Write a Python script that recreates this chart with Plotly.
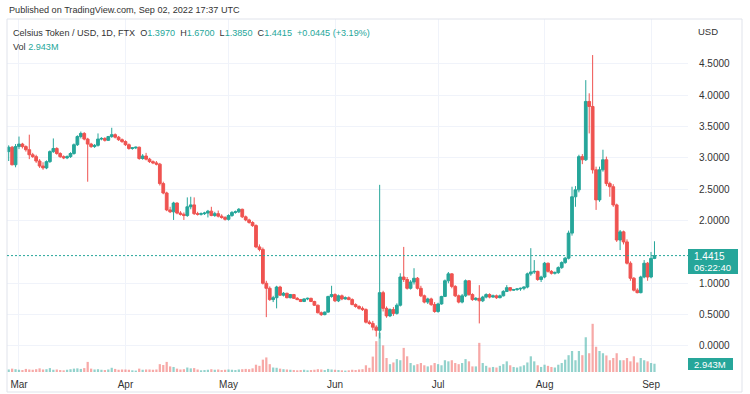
import plotly.graph_objects as go
import pandas as pd

# ---------------- data (daily candles, Feb 26 - Sep 2, 2022) ----------------
dates = pd.date_range("2022-02-26", "2022-09-02", freq="D")

opens = [
    3.10, 3.17, 2.89,  # Feb
    3.18, 3.22, 3.18, 3.13, 3.05, 3.02, 2.95, 2.87, 2.84, 2.94, 3.10, 3.15, 3.07, 3.02, 3.00, 3.02,
    3.07, 3.21, 3.34, 3.39, 3.30, 3.22, 3.18, 3.20, 3.30, 3.31, 3.28, 3.34, 3.37, 3.33, 3.29,  # Mar
    3.26, 3.21, 3.15, 3.16, 3.17, 2.99, 3.03, 2.98, 2.94, 2.92, 2.90, 2.59, 2.44, 2.17, 2.14, 2.28,
    2.12, 2.10, 2.08, 2.22, 2.25, 2.11, 2.10, 2.11, 2.12, 2.15, 2.08, 2.11, 2.07, 2.05,  # Apr
    2.02, 2.08, 2.13, 2.14, 2.18, 2.06, 2.01, 1.97, 1.92, 1.58, 1.54, 1.00, 0.92, 0.74, 0.77, 0.94,
    0.81, 0.84, 0.77, 0.82, 0.76, 0.74, 0.71, 0.75, 0.76, 0.71, 0.65, 0.53, 0.50, 0.54, 0.79,  # May
    0.82, 0.72, 0.80, 0.75, 0.77, 0.74, 0.66, 0.63, 0.60, 0.58, 0.38, 0.36, 0.30, 0.25, 0.85, 0.60,
    0.48, 0.58, 0.52, 0.65, 1.10, 1.06, 0.92, 1.02, 1.08, 0.92, 0.80, 0.70, 0.75, 0.66,  # Jun
    0.55, 0.67, 0.79, 1.04, 1.15, 0.95, 0.80, 0.70, 0.80, 1.04, 0.82, 0.74, 0.76, 0.72, 0.78, 0.82,
    0.78, 0.80, 0.77, 0.80, 0.87, 0.93, 0.89, 0.90, 0.91, 0.92, 0.94, 1.15, 1.18, 1.19, 1.06,  # Jul
    1.10, 1.32, 1.19, 1.16, 1.17, 1.25, 1.33, 1.40, 1.80, 2.38, 2.49, 3.02, 2.97, 3.90, 3.82, 2.81,
    2.33, 2.81, 2.97, 2.59, 2.54, 2.25, 1.69, 1.82, 1.66, 1.32, 1.08, 0.89, 0.85, 1.10, 1.32,  # Aug
    1.10, 1.397,  # Sep
]
highs = [
    3.20, 3.19, 3.22,
    3.34, 3.24, 3.20, 3.37, 3.08, 3.05, 2.98, 2.93, 2.96, 3.12, 3.31, 3.17, 3.09, 3.04, 3.04, 3.09,
    3.23, 3.36, 3.42, 3.41, 3.32, 3.24, 3.22, 3.39, 3.33, 3.33, 3.35, 3.48, 3.39, 3.35, 3.31,
    3.28, 3.23, 3.17, 3.18, 3.18, 3.06, 3.08, 3.00, 2.96, 2.95, 2.92, 2.62, 2.46, 2.22, 2.30, 2.29,
    2.15, 2.13, 2.37, 2.38, 2.37, 2.14, 2.13, 2.14, 2.17, 2.22, 2.14, 2.16, 2.10, 2.07,
    2.10, 2.15, 2.16, 2.20, 2.19, 2.08, 2.03, 1.99, 1.94, 1.62, 1.57, 1.04, 0.95, 0.80, 0.96, 0.96,
    0.86, 0.85, 0.83, 0.83, 0.78, 0.75, 0.76, 0.77, 0.77, 0.72, 0.66, 0.55, 0.55, 0.80, 0.96,
    0.84, 0.82, 0.82, 0.79, 0.79, 0.76, 0.68, 0.65, 0.63, 0.60, 0.41, 0.40, 0.33, 2.57, 0.88, 0.63,
    0.60, 0.62, 0.68, 1.16, 1.58, 1.10, 1.05, 1.24, 1.10, 0.96, 0.82, 0.77, 0.77, 0.70,
    0.69, 0.80, 1.06, 1.18, 1.16, 0.97, 0.82, 0.83, 1.06, 1.05, 0.84, 0.78, 0.97, 0.80, 0.84, 0.84,
    0.82, 0.82, 0.82, 0.89, 0.97, 0.94, 0.91, 0.92, 0.93, 0.95, 1.17, 1.56, 1.37, 1.20, 1.12,
    1.34, 1.33, 1.21, 1.19, 1.27, 1.35, 1.42, 1.84, 2.54, 2.55, 3.05, 3.06, 4.24, 4.03, 4.64, 2.86,
    2.86, 3.13, 3.02, 2.62, 2.58, 2.27, 1.85, 1.84, 1.70, 1.35, 1.10, 0.92, 1.12, 1.37, 1.34,
    1.50, 1.67,
]
lows = [
    2.95, 2.88, 2.85,
    3.14, 3.15, 3.10, 2.98, 3.00, 2.92, 2.84, 2.81, 2.82, 2.92, 3.08, 3.05, 3.00, 2.98, 2.98, 3.00,
    3.05, 3.19, 3.31, 3.28, 2.62, 3.16, 3.16, 3.18, 3.28, 3.26, 3.27, 3.32, 3.31, 3.27, 3.24,
    3.19, 3.13, 3.13, 3.14, 2.97, 2.97, 2.96, 2.92, 2.90, 2.88, 2.56, 2.42, 2.15, 2.12, 2.01, 2.10,
    2.08, 2.01, 2.06, 2.18, 2.09, 2.08, 2.08, 2.09, 2.05, 2.07, 2.06, 2.05, 2.03, 2.00,
    2.00, 2.06, 2.11, 2.12, 2.04, 1.99, 1.95, 1.90, 1.56, 1.51, 0.98, 0.46, 0.72, 0.70, 0.60, 0.80,
    0.79, 0.76, 0.76, 0.75, 0.73, 0.70, 0.70, 0.73, 0.70, 0.64, 0.52, 0.48, 0.49, 0.53, 0.77,
    0.70, 0.70, 0.73, 0.74, 0.73, 0.65, 0.61, 0.58, 0.56, 0.36, 0.34, 0.25, 0.15, 0.12, 0.55, 0.45,
    0.46, 0.48, 0.50, 0.63, 1.02, 0.90, 0.90, 0.98, 0.90, 0.78, 0.68, 0.67, 0.64, 0.53,
    0.53, 0.66, 0.78, 1.00, 0.92, 0.78, 0.68, 0.68, 0.78, 0.80, 0.72, 0.72, 0.36, 0.70, 0.76, 0.76,
    0.77, 0.75, 0.76, 0.79, 0.86, 0.87, 0.88, 0.88, 0.88, 0.89, 0.92, 1.12, 1.15, 1.04, 1.02,
    1.08, 1.17, 1.14, 1.14, 1.15, 1.23, 1.31, 1.38, 1.76, 2.22, 2.45, 2.90, 2.95, 3.39, 2.75, 2.17,
    2.30, 2.78, 2.55, 2.38, 2.22, 1.66, 1.53, 1.62, 1.30, 1.04, 0.87, 0.84, 0.84, 1.08, 1.04,
    1.08, 1.385,
]
closes = [
    3.17, 2.89, 3.18,
    3.22, 3.18, 3.13, 3.05, 3.02, 2.95, 2.87, 2.84, 2.94, 3.10, 3.15, 3.07, 3.02, 3.00, 3.02, 3.07,
    3.21, 3.34, 3.39, 3.30, 3.22, 3.18, 3.20, 3.30, 3.31, 3.28, 3.34, 3.37, 3.33, 3.29, 3.26,
    3.21, 3.15, 3.16, 3.17, 2.99, 3.03, 2.98, 2.94, 2.92, 2.90, 2.59, 2.44, 2.17, 2.14, 2.28, 2.12,
    2.10, 2.08, 2.22, 2.25, 2.11, 2.10, 2.11, 2.12, 2.15, 2.08, 2.11, 2.07, 2.05, 2.02,
    2.08, 2.13, 2.14, 2.18, 2.06, 2.01, 1.97, 1.92, 1.58, 1.54, 1.00, 0.92, 0.74, 0.77, 0.94, 0.81,
    0.84, 0.77, 0.82, 0.76, 0.74, 0.71, 0.75, 0.76, 0.71, 0.65, 0.53, 0.50, 0.54, 0.79, 0.82,
    0.72, 0.80, 0.75, 0.77, 0.74, 0.66, 0.63, 0.60, 0.58, 0.38, 0.36, 0.30, 0.25, 0.85, 0.60, 0.48,
    0.58, 0.52, 0.65, 1.10, 1.06, 0.92, 1.02, 1.08, 0.92, 0.80, 0.70, 0.75, 0.66, 0.55,
    0.67, 0.79, 1.04, 1.15, 0.95, 0.80, 0.70, 0.80, 1.04, 0.82, 0.74, 0.76, 0.72, 0.78, 0.82, 0.78,
    0.80, 0.77, 0.80, 0.87, 0.93, 0.89, 0.90, 0.91, 0.92, 0.94, 1.15, 1.18, 1.19, 1.06, 1.10,
    1.32, 1.19, 1.16, 1.17, 1.25, 1.33, 1.40, 1.80, 2.38, 2.49, 3.02, 2.97, 3.90, 3.82, 2.81, 2.33,
    2.81, 2.97, 2.59, 2.54, 2.25, 1.69, 1.82, 1.66, 1.32, 1.08, 0.89, 0.85, 1.10, 1.32, 1.10,
    1.397, 1.4415,
]
volumes_m = [
    0.9, 1.2, 1.0,
    0.8, 0.7, 1.1, 0.9, 0.8, 1.0, 1.3, 0.9, 1.0, 1.4, 0.8, 0.9, 0.7, 0.6, 0.8, 1.0,
    1.2, 1.3, 1.1, 1.4, 3.6, 1.2, 0.9, 1.0, 0.8, 0.7, 0.9, 1.5, 1.1, 0.8, 0.9,
    0.9, 0.8, 0.6, 0.5, 1.2, 0.8, 0.9, 0.9, 0.8, 0.9, 2.8, 2.5, 3.6, 2.0, 1.8, 1.2,
    0.9, 1.0, 1.6, 1.3, 1.4, 0.9, 0.6, 0.7, 0.8, 1.0, 0.8, 0.9, 0.7, 0.8,
    0.9, 0.8, 0.7, 0.9, 1.0, 1.1, 1.0, 1.3, 2.6, 2.2, 4.4, 5.2, 2.8, 1.6, 1.5, 1.2,
    1.0, 0.9, 0.8, 0.7, 0.6, 0.7, 0.8, 0.6, 0.7, 0.8, 1.0, 0.9, 0.7, 1.1, 0.9,
    0.8, 0.7, 0.6, 0.5, 0.6, 0.8, 0.7, 0.9, 1.0, 2.4, 1.5, 5.5, 11.0, 14.0, 9.5, 5.0,
    2.8, 3.4, 4.6, 4.2, 8.6, 5.6, 3.2, 2.4, 2.8, 3.2, 2.4, 2.0, 2.4, 3.2,
    2.8, 2.4, 4.2, 3.8, 4.2, 3.2, 2.8, 3.2, 4.6, 3.8, 2.0, 2.0, 10.4, 3.2, 2.2, 1.6,
    1.8, 1.6, 2.2, 2.8, 3.8, 2.4, 1.8, 1.6, 2.0, 2.4, 3.4, 5.6, 3.8, 2.4, 1.8,
    2.6, 2.2, 1.8, 1.6, 2.6, 3.2, 4.4, 6.0, 7.5, 4.2, 7.5, 6.0, 12.4, 6.7, 17.2, 9.0,
    7.5, 6.7, 5.9, 4.2, 5.0, 6.7, 4.2, 4.2, 5.0, 3.8, 5.6, 3.4, 5.0, 4.2, 3.8,
    3.2, 2.943,
]

price_ticks = [0.0, 0.5, 1.0, 2.0, 2.5, 3.0, 3.5, 4.0, 4.5]
month_ticks = ["2022-03-01", "2022-04-01", "2022-05-01", "2022-06-01",
               "2022-07-01", "2022-08-01", "2022-09-01"]
month_labels = ["Mar", "Apr", "May", "Jun", "Jul", "Aug", "Sep"]

last_price = closes[-1]

assert len(dates) == len(opens) == len(highs) == len(lows) == len(closes) == len(volumes_m)

# ---------------- styling ----------------
UP = "#26a69a"
DOWN = "#ef5350"
GRID = "#f0f3fa"
TXT = "#333333"
FONT = "Liberation Sans"

W, H = 750, 394
L, R, T, B = 7, 688, 19, 372


def px(x):
    return (x - L) / (R - L)


def py(y):
    return (B - y) / (B - T)


vol_colors = ["rgba(38,166,154,0.5)" if c >= o else "rgba(239,83,80,0.5)"
              for o, c in zip(opens, closes)]

fig = go.Figure()
fig.add_trace(go.Bar(
    x=dates, y=volumes_m, marker=dict(color=vol_colors, line=dict(width=0)),
    width=0.65 * 86400000, yaxis="y2", hoverinfo="skip", showlegend=False,
))
fig.add_trace(go.Candlestick(
    x=dates, open=opens, high=highs, low=lows, close=closes,
    increasing=dict(line=dict(color=UP, width=1), fillcolor=UP),
    decreasing=dict(line=dict(color=DOWN, width=1), fillcolor=DOWN),
    whiskerwidth=0, showlegend=False, yaxis="y",
))

fig.update_layout(
    width=W, height=H,
    margin=dict(l=L, r=W - R, t=T, b=H - B, autoexpand=False),
    paper_bgcolor="white", plot_bgcolor="white",
    font=dict(family=FONT, size=10, color=TXT),
    showlegend=False, hovermode=False, boxgap=0.2, boxgroupgap=0,
    xaxis=dict(
        type="date", range=["2022-02-25 12:14", "2022-09-11 18:14"],
        rangeslider=dict(visible=False), automargin=False,
        tickvals=month_ticks, ticktext=month_labels,
        showgrid=True, gridcolor=GRID, gridwidth=1,
        zeroline=False, showline=False,
        ticks="outside", ticklen=3, tickcolor="rgba(0,0,0,0)",
        tickfont=dict(size=10, color=TXT, family=FONT),
    ),
    yaxis=dict(
        side="right", range=[-0.415, 5.215], automargin=False,
        tickvals=price_ticks, ticktext=[f"{v:.4f}" for v in price_ticks],
        showgrid=True, gridcolor=GRID, gridwidth=1, zeroline=False,
        ticks="outside", ticklen=8, tickcolor="rgba(0,0,0,0)",
        tickfont=dict(size=10, color=TXT, family=FONT),
    ),
    yaxis2=dict(overlaying="y", range=[0, 126], visible=False),
)

shapes = [
    # outer frame
    dict(type="rect", xref="paper", yref="paper", x0=px(7), x1=px(742), y0=py(392), y1=py(19),
         line=dict(color="#e0e3eb", width=1), fillcolor="rgba(0,0,0,0)", layer="above"),
    # last price dotted line
    dict(type="line", xref="paper", yref="y", x0=0, x1=1, y0=last_price, y1=last_price,
         line=dict(color=UP, width=1, dash="2px,2px"), layer="above"),
    # price label box
    dict(type="rect", xref="paper", yref="paper", x0=px(688), x1=px(738), y0=py(274), y1=py(249),
         fillcolor=UP, line=dict(width=0), layer="above"),
    # volume label box
    dict(type="rect", xref="paper", yref="paper", x0=px(688), x1=px(733), y0=py(370), y1=py(358),
         fillcolor=UP, line=dict(width=0), layer="above"),
]

val = lambda s: f"<span style='color:{UP}'>{s}</span>"
sp = "\u00a0\u00a0"
header2 = ("Celsius Token / USD, 1D, FTX" + sp + "O" + val("1.3970") + sp + "H" + val("1.6700")
           + sp + "L" + val("1.3850") + sp + "C" + val("1.4415") + sp + val("+0.0445 (+3.19%)"))

ann = [
    dict(text="Published on TradingView.com, Sep 02, 2022 17:37 UTC", x=px(7), y=py(10.5),
         font=dict(size=9.15, color="#333333")),
    dict(text=header2, x=px(11), y=py(33), font=dict(size=9.1, color="#333333")),
    dict(text="Vol" + "\u00a0" + val("2.943M"), x=px(11), y=py(46.5), font=dict(size=9.1, color="#333333")),
    dict(text="USD", x=px(696), y=py(31), font=dict(size=9.5, color=TXT)),
    dict(text="1.4415", x=px(692), y=py(256.5), font=dict(size=10, color="white")),
    dict(text="06:22:40", x=px(692), y=py(267), font=dict(size=9.5, color="white")),
    dict(text="2.943M", x=px(692), y=py(364), font=dict(size=9.5, color="white")),
]
for a in ann:
    a.update(xref="paper", yref="paper", xanchor="left", yanchor="middle", showarrow=False)
    a["font"].setdefault("family", FONT)

fig.update_layout(shapes=shapes, annotations=ann)
fig.write_html("out.html",
               config={"staticPlot": True, "displayModeBar": False},
               post_script="document.body.style.margin='0';document.body.style.overflow='hidden';")
